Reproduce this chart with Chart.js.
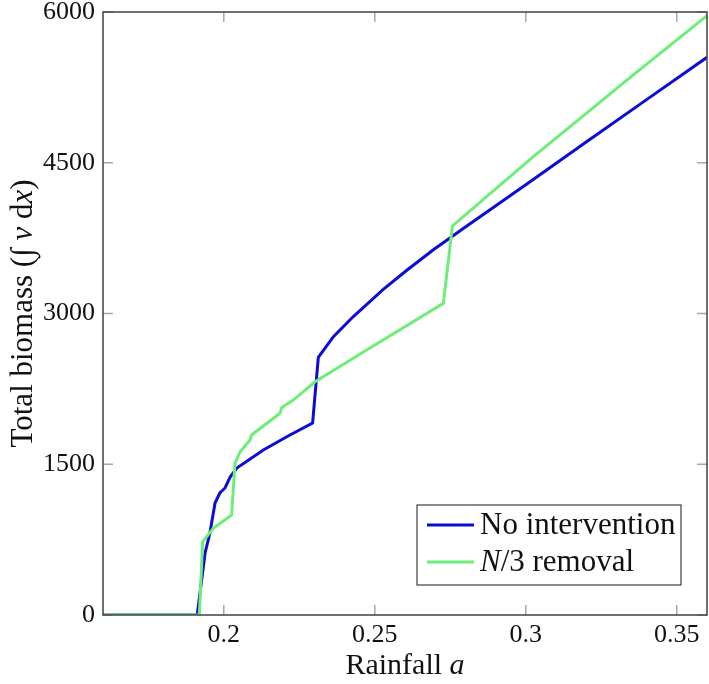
<!DOCTYPE html>
<html>
<head>
<meta charset="utf-8">
<script src="https://cdn.jsdelivr.net/npm/chart.js@4.4.1/dist/chart.umd.min.js"></script>
<style>
  html, body { margin: 0; padding: 0; background: #fff; }
  #wrap { width: 709px; height: 684px; }
</style>
</head>
<body>
<div id="wrap"><canvas id="biomass" width="709" height="684"></canvas></div>
<script>
// values
var noInterventionX = [0.16, 0.1912, 0.1938, 0.1954, 0.1971, 0.1987, 0.2004, 0.2021, 0.2043, 0.2131, 0.2219, 0.2294,
	0.2313, 0.2363, 0.2429, 0.2528, 0.2606, 0.2694, 0.28, 0.30, 0.32, 0.34, 0.36];
var noInterventionY = [0, 0, 617, 816, 1114, 1214, 1264, 1373, 1462, 1642, 1791, 1910,
	2564, 2769, 2970, 3240, 3430, 3634, 3861, 4282, 4706, 5128, 5549];

var removalX = [0.16, 0.1919, 0.1930, 0.1965, 0.2026, 0.2037, 0.2054, 0.2087, 0.2092, 0.2186, 0.2192, 0.2230,
	0.2302, 0.2473, 0.2727, 0.2757, 0.3025, 0.3356, 0.36];
var removalY = [0, 0, 729, 862, 995, 1509, 1625, 1741, 1791, 2007, 2065, 2139,
	2321, 2637, 3101, 3871, 4560, 5375, 5964];

var xTicks = [0.2, 0.25, 0.3, 0.35];
var yTicks = [0, 1500, 3000, 4500, 6000];
var seriesNames = ["No intervention", "N/3 removal"];

var serif = "'Liberation Serif', 'DejaVu Serif', serif";

var toPoints = function(xs, ys) {
	var pts = [];
	for (var i = 0; i < xs.length; i++) {
		pts.push({ x: xs[i], y: ys[i] });
	}
	return pts;
};

// draws a row of [text, italic] pieces starting at x
var drawPieces = function(ctx, pieces, x, y, size) {
	for (var i = 0; i < pieces.length; i++) {
		ctx.font = (pieces[i][1] ? "italic " : "") + size + "px " + serif;
		ctx.fillText(pieces[i][0], x, y);
		x += ctx.measureText(pieces[i][0]).width;
	}
};
var piecesWidth = function(ctx, pieces, size) {
	var w = 0;
	for (var i = 0; i < pieces.length; i++) {
		ctx.font = (pieces[i][1] ? "italic " : "") + size + "px " + serif;
		w += ctx.measureText(pieces[i][0]).width;
	}
	return w;
};

var frame = {
	id: 'frame',
	afterDatasetsDraw: function(chart) {
		var ctx = chart.ctx;
		var a = chart.chartArea;
		var xs = chart.scales.x, ys = chart.scales.y;
		ctx.save();

		// inner tick marks on all four sides
		ctx.strokeStyle = '#a8a8a8';
		ctx.lineWidth = 1.5;
		ctx.beginPath();
		xTicks.forEach(function(v) {
			var px = xs.getPixelForValue(v);
			ctx.moveTo(px, a.bottom); ctx.lineTo(px, a.bottom - 10);
			ctx.moveTo(px, a.top); ctx.lineTo(px, a.top + 10);
		});
		yTicks.forEach(function(v) {
			var py = ys.getPixelForValue(v);
			ctx.moveTo(a.left, py); ctx.lineTo(a.left + 10, py);
			ctx.moveTo(a.right, py); ctx.lineTo(a.right - 10, py);
		});
		ctx.stroke();

		// axis box
		ctx.strokeStyle = '#404040';
		ctx.lineWidth = 1.5;
		ctx.strokeRect(a.left, a.top, a.right - a.left, a.bottom - a.top);

		// legend
		var bx = a.right - 290, by = a.bottom - 110, bw = 264, bh = 80;
		ctx.fillStyle = '#fff';
		ctx.fillRect(bx, by, bw, bh);
		ctx.strokeStyle = '#404040';
		ctx.lineWidth = 1.2;
		ctx.strokeRect(bx, by, bw, bh);
		var ds = chart.data.datasets;
		var rows = [by + 20, by + 57];
		ctx.textBaseline = 'middle';
		for (var i = 0; i < ds.length; i++) {
			ctx.strokeStyle = ds[i].borderColor;
			ctx.lineWidth = 3;
			ctx.beginPath();
			ctx.moveTo(bx + 10, rows[i]);
			ctx.lineTo(bx + 57, rows[i]);
			ctx.stroke();
			var label = ds[i].label;
			var pieces = label.charAt(0) === 'N' && label.charAt(1) === '/' ?
				[["N", true], [label.substring(1), false]] : [[label, false]];
			ctx.fillStyle = '#111';
			drawPieces(ctx, pieces, bx + 63, rows[i] + 1, 31);
		}
		ctx.restore();
	},
	afterDraw: function(chart) {
		var ctx = chart.ctx;
		var a = chart.chartArea;
		ctx.save();
		ctx.fillStyle = '#111';
		ctx.textBaseline = 'alphabetic';

		var xt = [["Rainfall ", false], ["a", true]];
		var w = piecesWidth(ctx, xt, 30);
		drawPieces(ctx, xt, (a.left + a.right) / 2 - w / 2, 674, 30);

		var yt = [["Total biomass (", false], ["\u222B", false], [" ", false], ["v", true], [" d", false], ["x", true], [")", false]];
		w = piecesWidth(ctx, yt, 31);
		ctx.translate(32, (a.top + a.bottom) / 2);
		ctx.rotate(-Math.PI / 2);
		drawPieces(ctx, yt, -w / 2, 0, 31);
		ctx.restore();
	}
};

var config = {
	type: 'line',
	data: {
		datasets: [{
			label: seriesNames[0],
			data: toPoints(noInterventionX, noInterventionY),
			borderColor: '#0c0cd6',
			borderWidth: 3,
			pointRadius: 0,
			tension: 0,
			order: 1
		}, {
			label: seriesNames[1],
			data: toPoints(removalX, removalY),
			borderColor: '#6cee78',
			borderWidth: 3,
			pointRadius: 0,
			tension: 0,
			order: 0
		}]
	},
	options: {
		responsive: false,
		animation: false,
		layout: { padding: { top: 12, right: 2, left: 0, bottom: 0 } },
		plugins: { legend: { display: false }, tooltip: { enabled: false } },
		scales: {
			x: {
				type: 'linear',
				min: 0.16,
				max: 0.36,
				grid: { display: false, drawTicks: false },
				border: { display: false },
				afterBuildTicks: function(scale) {
					scale.ticks = xTicks.map(function(v) { return { value: v }; });
				},
				afterFit: function(scale) { scale.height = 69; },
				ticks: {
					color: '#111',
					padding: 6,
					maxRotation: 0,
					font: { family: serif, size: 26, lineHeight: 1.1 },
					callback: function(v) { return String(v); }
				}
			},
			y: {
				type: 'linear',
				min: 0,
				max: 6000,
				grid: { display: false, drawTicks: false },
				border: { display: false },
				afterBuildTicks: function(scale) {
					scale.ticks = yTicks.map(function(v) { return { value: v }; });
				},
				afterFit: function(scale) { scale.width = 103; },
				ticks: {
					color: '#111',
					padding: 8,
					font: { family: serif, size: 26, lineHeight: 0.2 },
					callback: function(v) { return String(v); }
				}
			}
		}
	},
	plugins: [frame]
};

var ctx = document.getElementById("biomass").getContext("2d");
window.biomassChart = new Chart(ctx, config);
</script>
</body>
</html>
